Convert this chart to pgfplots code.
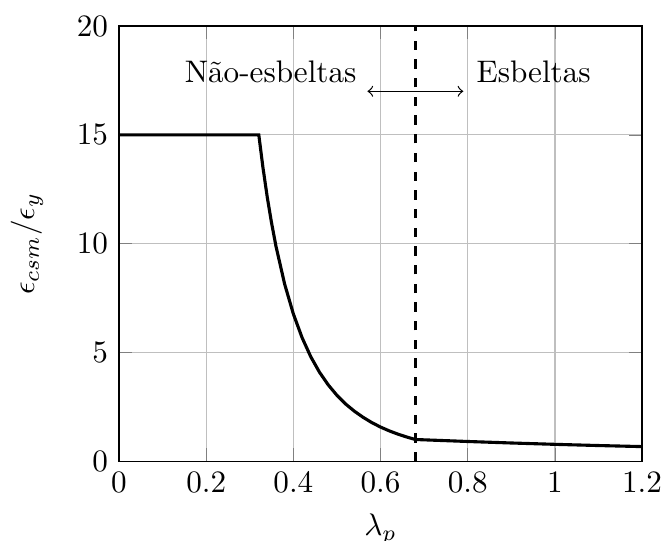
\documentclass[border=0pt]{standalone}
\usepackage{pgfplots}
\pgfplotsset{compat=1.18}
\begin{document}
\begin{tikzpicture}
\begin{axis}[
  scale only axis,
  width=5.9cm, height=4.91cm,
  xmin=0, xmax=1.2, ymin=0, ymax=20,
  xtick={0,0.2,0.4,0.6,0.8,1,1.2},
  ytick={0,5,10,15,20},
  grid=major,
  xlabel={$\lambda_p$},
  ylabel={$\epsilon_{csm}/\epsilon_y$},
  ylabel shift=4pt,
  /pgf/number format/fixed,
]
\addplot[black, line width=1pt] coordinates {
(0,15) (0.3207,15) (0.33,13.53) (0.34,12.15) (0.35,10.95) (0.36,9.89) (0.38,8.14)
(0.40,6.77) (0.42,5.68) (0.44,4.80) (0.46,4.09) (0.48,3.51) (0.50,3.03) (0.52,2.63)
(0.54,2.30) (0.56,2.02) (0.58,1.777) (0.60,1.572) (0.62,1.397) (0.64,1.246)
(0.66,1.115) (0.68,1.0) (0.8,0.909) (0.9,0.840) (1.0,0.778) (1.1,0.723) (1.2,0.674)
};
\addplot[black, line width=1pt, dashed] coordinates {(0.68,0) (0.68,20)};
\addplot[black, <->] coordinates {(0.57,17) (0.79,17)};
\node[anchor=east] at (axis cs:0.57,17.9) {Não-esbeltas};
\node[anchor=west] at (axis cs:0.795,17.9) {Esbeltas};
\end{axis}
\pgfresetboundingbox
\path ([shift={(-38.2pt,-25.4pt)}]current axis.south west) rectangle ([shift={(6.4pt,8.35pt)}]current axis.north east);
\end{tikzpicture}
\end{document}
